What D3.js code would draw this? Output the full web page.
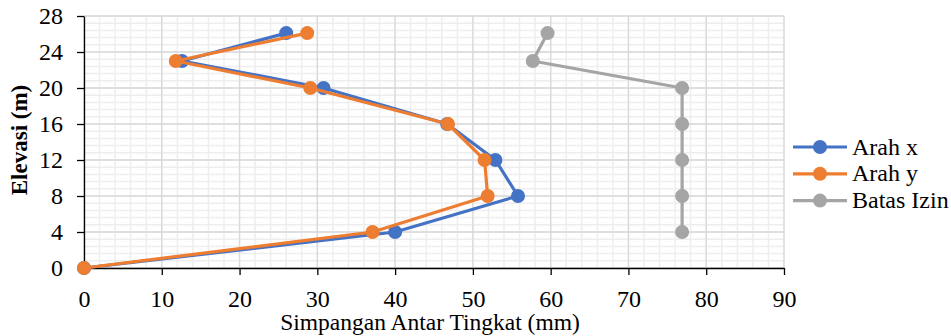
<!doctype html>
<html>
<head>
<meta charset="utf-8">
<title>Simpangan</title>
<script src="https://cdn.jsdelivr.net/npm/d3@7"></script>
<style>
body { margin: 0; background: #fff; }
text { font-family: "Liberation Serif", "Times New Roman", serif; fill: #000; }
</style>
</head>
<body>
<svg width="951" height="336"></svg>
<script>
// elevations (m)
var elevasi = [0, 4, 8, 12, 16, 20, 23, 26.1];
var elevasiIzin = [4, 8, 12, 16, 20, 23, 26.1];
// drift values (mm)
var arahX = [0, 40.0, 55.8, 52.9, 46.7, 30.8, 12.6, 26.0];
var arahY = [0, 37.1, 51.9, 51.5, 46.8, 29.1, 11.8, 28.7];
var batasIzin = [76.9, 76.9, 76.9, 76.9, 76.9, 57.7, 59.6];
var xTicks = [0, 10, 20, 30, 40, 50, 60, 70, 80, 90];
var yTicks = [0, 4, 8, 12, 16, 20, 24, 28];

var series = [
    { name: "Arah x", color: "#4472C4", xs: arahX, ys: elevasi },
    { name: "Arah y", color: "#ED7D31", xs: arahY, ys: elevasi },
    { name: "Batas Izin", color: "#A5A5A5", xs: batasIzin, ys: elevasiIzin }
];

(function() {
    var svg = d3.select("svg");
    var pL = 84, pR = 784, pT = 16, pB = 268;

    var x = d3.scaleLinear().domain([0, 90]).range([pL, pR]);
    var y = d3.scaleLinear().domain([0, 28]).range([pB, pT]);

    var g = svg.append("g");

    // minor grid
    var xMinor = d3.range(0, 90.01, 2), yMinor = d3.range(0, 28.01, 0.8);
    g.selectAll(".xmin").data(xMinor).enter().append("line")
        .attr("x1", d => x(d)).attr("x2", d => x(d))
        .attr("y1", pT).attr("y2", pB)
        .attr("stroke", "#eeeeee").attr("stroke-width", 1.5);
    g.selectAll(".ymin").data(yMinor).enter().append("line")
        .attr("x1", pL).attr("x2", pR)
        .attr("y1", d => y(d)).attr("y2", d => y(d))
        .attr("stroke", "#eeeeee").attr("stroke-width", 1.5);

    // major grid
    g.selectAll(".xmaj").data(xTicks).enter().append("line")
        .attr("x1", d => x(d)).attr("x2", d => x(d))
        .attr("y1", pT).attr("y2", pB)
        .attr("stroke", "#d9d9d9").attr("stroke-width", 1.3);
    g.selectAll(".ymaj").data(yTicks).enter().append("line")
        .attr("x1", pL).attr("x2", pR)
        .attr("y1", d => y(d)).attr("y2", d => y(d))
        .attr("stroke", "#d9d9d9").attr("stroke-width", 1.3);

    // axes
    var xAxis = svg.append("g").attr("transform", "translate(0," + pB + ")")
        .call(d3.axisBottom(x).tickValues(xTicks).tickSizeInner(7).tickSizeOuter(0).tickPadding(15));
    var yAxis = svg.append("g").attr("transform", "translate(" + pL + ",0)")
        .call(d3.axisLeft(y).tickValues(yTicks).tickSizeInner(7).tickSizeOuter(0).tickPadding(14));
    [xAxis, yAxis].forEach(function(a) {
        a.attr("font-family", null).attr("font-size", null);
        a.select(".domain").attr("stroke", "#000").attr("stroke-width", 1.3);
        a.selectAll(".tick line").attr("stroke", "#000").attr("stroke-width", 1.3);
        a.selectAll(".tick text").attr("font-size", 24).attr("fill", "#000");
    });

    // series
    var line = d3.line().x(d => x(d[0])).y(d => y(d[1]));
    series.forEach(function(s) {
        var pts = s.xs.map((v, i) => [v, s.ys[i]]);
        svg.append("path").datum(pts)
            .attr("d", line).attr("fill", "none")
            .attr("stroke", s.color).attr("stroke-width", 3.2)
            .attr("stroke-linejoin", "round");
        svg.selectAll(null).data(pts).enter().append("circle")
            .attr("cx", d => x(d[0])).attr("cy", d => y(d[1]))
            .attr("r", 7).attr("fill", s.color);
    });

    // axis titles
    svg.append("text").attr("x", (pL + pR) / 2 - 4).attr("y", 330)
        .attr("text-anchor", "middle").attr("font-size", 23.5)
        .text("Simpangan Antar Tingkat (mm)");
    svg.append("text").attr("transform", "translate(27,140) rotate(-90)")
        .attr("text-anchor", "middle").attr("font-size", 23).attr("font-weight", "bold")
        .text("Elevasi (m)");

    // legend
    var lg = svg.append("g").attr("transform", "translate(793,147)");
    series.forEach(function(s, i) {
        var r = lg.append("g").attr("transform", "translate(0," + (i * 26.8) + ")");
        r.append("line").attr("x1", 0).attr("x2", 54).attr("y1", 0).attr("y2", 0)
            .attr("stroke", s.color).attr("stroke-width", 3.2);
        r.append("circle").attr("cx", 27).attr("cy", 0).attr("r", 7).attr("fill", s.color);
        r.append("text").attr("x", 59).attr("y", 7.5).attr("font-size", 24).text(s.name);
    });
})();
</script>
</body>
</html>
